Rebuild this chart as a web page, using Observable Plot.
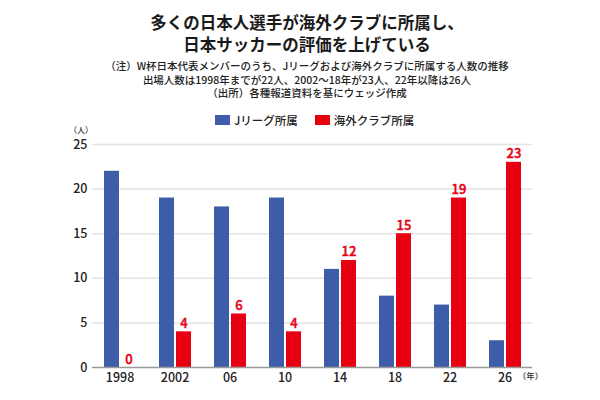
<!DOCTYPE html>
<html lang="ja">
<head>
<meta charset="utf-8">
<script src="https://cdn.jsdelivr.net/npm/d3@7"></script>
<script src="https://cdn.jsdelivr.net/npm/@observablehq/plot@0.6"></script>
<style>
  html, body { margin: 0; padding: 0; background: #fff; }
  body { width: 600px; height: 400px; overflow: hidden; font-family: "Noto Sans CJK JP", "Noto Sans", sans-serif; color: #222; }
  #header { position: relative; width: 600px; height: 128px; }
  .tl { position: absolute; left: 0; width: 600px; height: 21px; padding-left: 14px; box-sizing: border-box; text-align: center; font-size: 16.5px; line-height: 21px; font-weight: 700; color: #1a1a1a; white-space: nowrap; }
  .sl { position: absolute; left: 0; width: 600px; height: 13.5px; padding-left: 14px; box-sizing: border-box; text-align: center; font-size: 10.5px; line-height: 13.5px; font-weight: 500; color: #222; white-space: nowrap; }
  #legend { position: absolute; top: 112px; left: 215px; height: 16px; display: flex; align-items: center; font-size: 11.5px; font-weight: 500; color: #222; }
  .item { display: flex; align-items: center; margin-right: 17px; }
  .sw { width: 15px; height: 10px; margin-right: 4px; }
  #chart { position: relative; width: 600px; height: 272px; }
</style>
</head>
<body>
<div id="header">
  <div class="tl" style="top:12px">多くの日本人選手が海外クラブに所属し、</div>
  <div class="tl" style="top:34px">日本サッカーの評価を上げている</div>
  <div class="sl" style="top:59px">（注）W杯日本代表メンバーのうち、Jリーグおよび海外クラブに所属する人数の推移</div>
  <div class="sl" style="top:72.5px">出場人数は1998年までが22人、2002～18年が23人、22年以降は26人</div>
  <div class="sl" style="top:86px">（出所）各種報道資料を基にウェッジ作成</div>
  <div id="legend"></div>
</div>
<div id="chart"></div>
<script>
const years = ["1998", "2002", "06", "10", "14", "18", "22", "26"];
const jleague = [22, 19, 18, 19, 11, 8, 7, 3];
const overseas = [0, 4, 6, 4, 12, 15, 19, 23];
const seriesNames = ["Jリーグ所属", "海外クラブ所属"];
const seriesColors = ["#3e5da8", "#e60012"];
const yTicks = [0, 5, 10, 15, 20, 25];
const yUnit = "（人）";
const xUnit = "（年）";

const rows = years.flatMap((yr, i) => [
  {year: yr, series: seriesNames[0], value: jleague[i]},
  {year: yr, series: seriesNames[1], value: overseas[i]}
]);
const redRows = rows.filter(d => d.series === seriesNames[1]);

const legend = document.getElementById("legend");
seriesNames.forEach((name, i) => {
  const item = document.createElement("div");
  item.className = "item";
  const sw = document.createElement("span");
  sw.className = "sw";
  sw.style.background = seriesColors[i];
  const lab = document.createElement("span");
  lab.textContent = name;
  item.appendChild(sw);
  item.appendChild(lab);
  legend.appendChild(item);
});

const chart = Plot.plot({
  width: 600,
  height: 272,
  marginTop: 16,
  marginBottom: 33,
  marginLeft: 92,
  marginRight: 68,
  style: {fontFamily: "'Noto Sans CJK JP', 'Noto Sans', sans-serif", fontSize: "12.5px", fontWeight: 500, color: "#222", background: "white", overflow: "visible"},
  fx: {domain: years, padding: 0, label: null, tickSize: 0, tickPadding: 6, axis: "bottom"},
  x: {domain: seriesNames, axis: null, paddingInner: 0.118, paddingOuter: 0.676},
  y: {domain: [0, 25], ticks: yTicks, tickSize: 0, tickPadding: 5, label: null},
  color: {domain: seriesNames, range: seriesColors},
  marks: [
    Plot.ruleY(yTicks.filter(t => t > 0), {stroke: "#e3e3e3", strokeWidth: 1.5}),
    Plot.barY(rows, {fx: "year", x: "series", y: "value", fill: "series"}),
    Plot.ruleY([0], {stroke: "#9a9a9a", strokeWidth: 1.5}),
    Plot.text(redRows, {fx: "year", x: "series", y: "value", text: d => String(d.value), fill: seriesColors[1], stroke: seriesColors[1], strokeWidth: 0.4, lineAnchor: "bottom", dy: -4, fontSize: 13, fontWeight: 500}),
    Plot.text([{year: years[0], t: yUnit}], {fx: "year", text: "t", frameAnchor: "top-left", textAnchor: "middle", dx: -11.5, dy: -17.5, fontSize: 8, fill: "#333"}),
    Plot.text([{year: years[years.length - 1], t: xUnit}], {fx: "year", text: "t", frameAnchor: "bottom-right", textAnchor: "middle", dx: -2, dy: 11, fontSize: 8.5, fill: "#333"})
  ]
});
document.getElementById("chart").appendChild(chart);
</script>
</body>
</html>
